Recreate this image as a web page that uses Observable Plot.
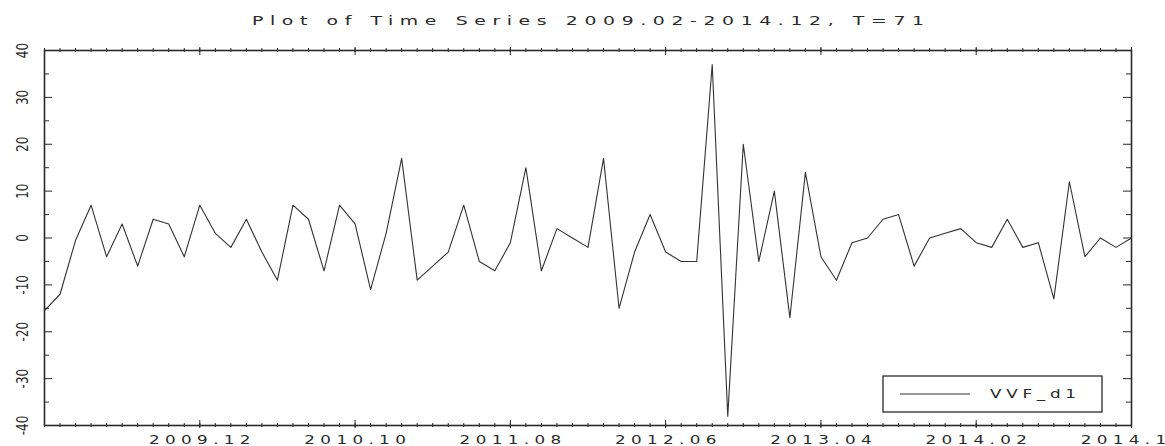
<!DOCTYPE html>
<html>
<head>
<meta charset="utf-8">
<script src="https://cdn.jsdelivr.net/npm/d3@7"></script>
<script src="https://cdn.jsdelivr.net/npm/@observablehq/plot@0.6"></script>
<style>
  html, body { margin: 0; padding: 0; background: #fff; }
  #chart svg { display: block; }
</style>
</head>
<body>
<div id="chart"></div>
<script>
// ---- data ----
const titleText = "Plot of Time Series 2009.02-2014.12, T=71";
const seriesName = "VVF_d1";
// monthly values 2009.02 ... 2014.12 (71 observations)
const values = [
  -15.5, -12, -0.5, 7, -4, 3, -6, 4, 3, -4,
  7, 1, -2, 4, -3, -9, 7, 4, -7, 7,
  3, -11, 1, 17, -9, -6, -3, 7, -5, -7,
  -1, 15, -7, 2, 0, -2, 17, -15, -3, 5,
  -3, -5, -5, 37, -38, 20, -5, 10, -17, 14,
  -4, -9, -1, 0, 4, 5, -6, 0, 1, 2,
  -1, -2, 4, -2, -1, -13, 12, -4, 0, -2,
  0
];
const xTickLabels = ["2009.12", "2010.10", "2011.08", "2012.06", "2013.04", "2014.02", "2014.12"];
const xTickIndex = [10, 20, 30, 40, 50, 60, 70];
const yTickValues = [40, 30, 20, 10, 0, -10, -20, -30, -40];
const yMinorValues = [35, 25, 15, 5, -5, -15, -25, -35];

// ---- layout ----
const W = 1165, H = 446;
const mL = 44, mR = 34, mT = 50, mB = 21;
const innerW = W - mL - mR, innerH = H - mT - mB;
const months = values.map((d, i) => i);
const ink = "#2a2a2a";

const chart = Plot.plot({
  width: W, height: H,
  marginLeft: mL, marginRight: mR, marginTop: mT, marginBottom: mB,
  x: { domain: [0, values.length - 1], axis: null },
  y: { domain: [-40, 40], axis: null },
  style: { fontFamily: "DejaVu Sans", background: "#fff", color: ink },
  marks: [
    // month ticks crossing bottom and top frame
    Plot.tickX(months, { x: d => d, insetTop: innerH - 2, insetBottom: -2, stroke: ink, strokeWidth: 1 }),
    Plot.tickX(months, { x: d => d, insetBottom: innerH - 2, insetTop: -2, stroke: ink, strokeWidth: 1 }),
    // labelled (major) ticks
    Plot.tickX(xTickIndex, { x: d => d, insetTop: innerH - 5, insetBottom: -3, stroke: ink, strokeWidth: 1 }),
    Plot.tickX(xTickIndex, { x: d => d, insetBottom: innerH - 5, insetTop: -3, stroke: ink, strokeWidth: 1 }),
    // y ticks left & right (inward)
    Plot.tickY(yTickValues, { y: d => d, insetRight: innerW - 8, stroke: ink, strokeWidth: 1 }),
    Plot.tickY(yMinorValues, { y: d => d, insetRight: innerW - 5, stroke: ink, strokeWidth: 1 }),
    Plot.tickY(yTickValues, { y: d => d, insetLeft: innerW - 8, stroke: ink, strokeWidth: 1 }),
    Plot.tickY(yMinorValues, { y: d => d, insetLeft: innerW - 5, stroke: ink, strokeWidth: 1 }),
    Plot.frame({ stroke: ink, strokeWidth: 1.6 }),
    // series
    Plot.line(values, { x: (d, i) => i, y: d => d, stroke: "#333", strokeWidth: 1.1 }),
    // x tick labels
    Plot.text(xTickLabels, {
      x: (d, i) => xTickIndex[i], text: d => d, frameAnchor: "bottom",
      dy: 18, lineAnchor: "bottom", fontSize: 12, fill: ink
    }),
    // y tick labels (rotated)
    Plot.text(yTickValues, {
      y: d => d, text: d => String(d), frameAnchor: "left", dx: -21,
      rotate: -90, textAnchor: "middle", lineAnchor: "middle", fontSize: 15, fill: ink
    }),
    // title
    Plot.text([titleText], {
      text: d => d, frameAnchor: "top", dy: -26, lineAnchor: "bottom",
      fontSize: 13, fill: ink
    })
  ]
});

document.getElementById("chart").appendChild(chart);
const svg = d3.select(chart);

// horizontal stretch/squeeze of the plotter-style lettering
function stretch(el, sx, targetWidth) {
  const x = +el.getAttribute("x") || 0;
  const tr = el.getAttribute("transform") || "";
  el.setAttribute("transform", `${tr} translate(${x},0) scale(${sx},1) translate(${-x},0)`);
  if (targetWidth) {
    el.setAttribute("textLength", targetWidth / sx);
    el.setAttribute("lengthAdjust", "spacing");
  }
}
const yLabelSet = yTickValues.map(String);
svg.selectAll("text").each(function () {
  const t = this.textContent;
  if (xTickLabels.includes(t)) stretch(this, 1.4, t.length * 14.5);
  else if (t === titleText) stretch(this, 1.45, 672);
  else if (yLabelSet.includes(t)) stretch(this, 0.8, 0);
});

// legend box (bottom-right inside the frame)
const fr = W - mR, fb = H - mB;
const lg = svg.append("g").attr("class", "legend");
const bx = fr - 248, by = fb - 49, bw = 219, bh = 36;
lg.append("rect").attr("x", bx).attr("y", by).attr("width", bw).attr("height", bh)
  .attr("fill", "#fff").attr("stroke", ink).attr("stroke-width", 1.3);
lg.append("line").attr("x1", bx + 17).attr("x2", bx + 87).attr("y1", by + bh / 2).attr("y2", by + bh / 2)
  .attr("stroke", "#333").attr("stroke-width", 1.1);
const lt = lg.append("text").attr("x", bx + 107).attr("y", by + bh / 2 + 4)
  .attr("text-anchor", "start")
  .attr("font-family", "DejaVu Sans").attr("font-size", 12).attr("fill", ink)
  .text(seriesName);
stretch(lt.node(), 1.4, 86);
</script>
</body>
</html>
